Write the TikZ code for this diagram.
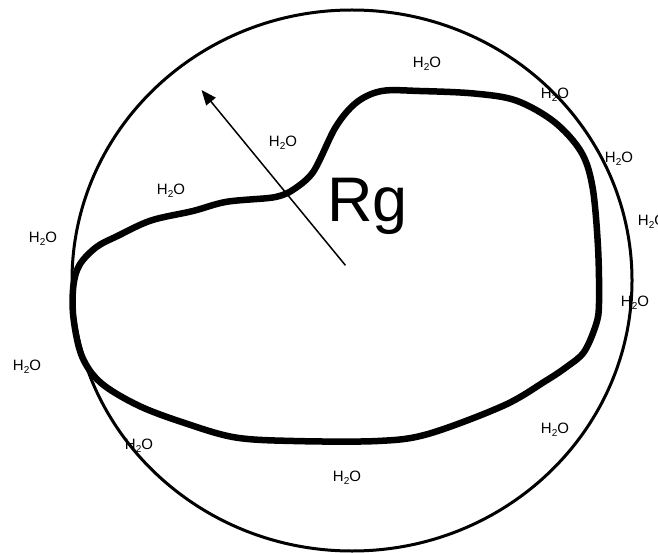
\documentclass[tikz,border=0pt]{standalone}
\usepackage{fontspec}
\setmainfont{Liberation Sans}
\usetikzlibrary{arrows.meta}
\newcommand{\hho}{H\raisebox{-0.35ex}{\fontsize{10}{10}\selectfont 2}O}
\begin{document}
\begin{tikzpicture}[x=1pt, y=-1pt, >={Triangle[length=15pt, width=12pt]},
  water/.style={font=\fontsize{15}{18}\selectfont, inner sep=0pt},
  shell/.style={line width=3pt},
  chain/.style={line width=6.5pt, line join=round, line cap=round}]
\useasboundingbox (0,0) rectangle (658,553);

% hydration shell
\draw[shell] (352,280.5) ellipse [x radius=280, y radius=270.5];

% polymer outline
\draw[chain] plot[smooth, tension=0.55] coordinates {
  (289.5,192) (312.6,172.8) (335.7,127) (356.7,102.3) (381.9,91)
  (419.6,91) (474,93.5) (516,100.5) (554,121.7) (581,151.7)
  (592.5,187) (598,247) (599,303) (596,324.5) (584,352)
  (566.5,367) (545.5,381) (503.6,405.6) (428,434) (377.7,441) (293.7,441)
  (235,437.4) (184.6,423) (138.5,405.6) (100.7,382.7) (81.8,356)
  (73.4,317.5) (73.4,285.7) (79.7,264.6) (96.5,247) (117.5,236)
  (151,220.5) (193,211) (226.6,201.8) (272.8,197.5) (289.5,192)};

% radius of gyration
\coordinate (centre) at (345.4,265.3);
\coordinate (rim) at (201.5,90);
\draw[line width=1.5pt, ->] (centre) -- (rim);
\node[font=\fontsize{63}{70}\selectfont, inner sep=0pt, anchor=base west] (rg) at (327,221.5) {Rg};

% water molecules
\node[water] (w1) at (427,64) {\hho};
\node[water] (w2) at (555,95) {\hho};
\node[water] (w3) at (619,159) {\hho};
\node[water] (w4) at (652,222) {\hho};
\node[water] (w5) at (635,303) {\hho};
\node[water] (w6) at (283,143) {\hho};
\node[water] (w7) at (171,191) {\hho};
\node[water] (w8) at (43,239) {\hho};
\node[water] (w9) at (27,367) {\hho};
\node[water] (w10) at (139,446) {\hho};
\node[water] (w11) at (555,430) {\hho};
\node[water] (w12) at (347,478) {\hho};
\end{tikzpicture}
\end{document}
